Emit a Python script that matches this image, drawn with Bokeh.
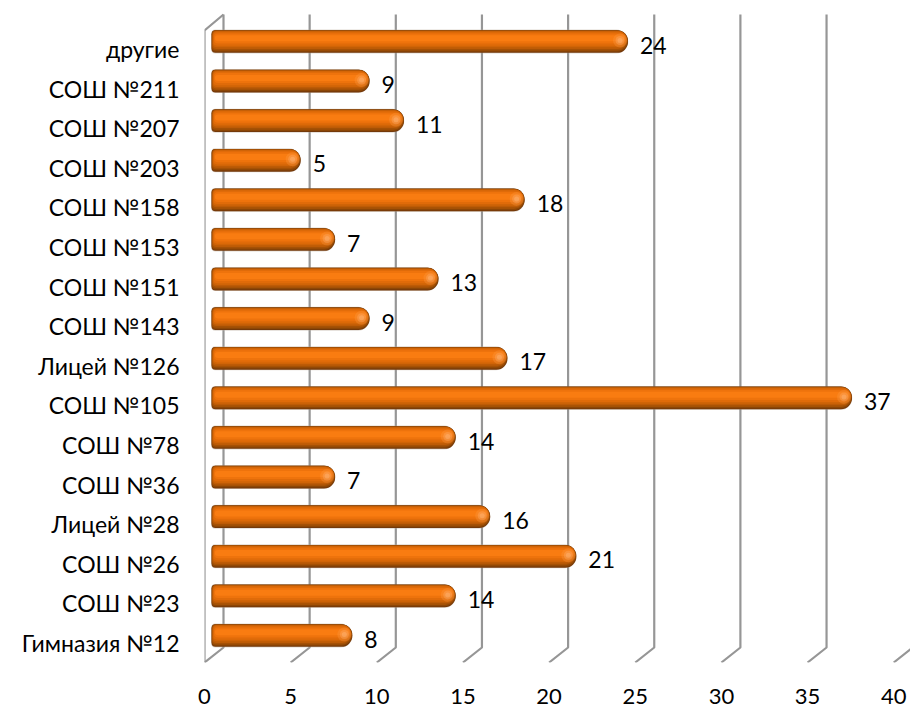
from bokeh.plotting import figure
from bokeh.models import ColumnDataSource, FixedTicker, LinearAxis, Range1d
from bokeh.core.properties import value as fv
from bokeh.embed import file_html
from bokeh.resources import INLINE

schools = ["Гимназия №12", "СОШ №23", "СОШ №26", "Лицей №28", "СОШ №36", "СОШ №78", "СОШ №105", "Лицей №126",
           "СОШ №143", "СОШ №151", "СОШ №153", "СОШ №158", "СОШ №203", "СОШ №207", "СОШ №211", "другие"]
counts = [8, 14, 21, 16, 7, 14, 37, 17, 9, 13, 7, 18, 5, 11, 9, 24]
x_ticks = [0, 5, 10, 15, 20, 25, 30, 35, 40]

FONT = "Lato"
FS = "23px"
PX_X = 17.23     # px per unit on x
PX_Y = 39.6      # px per category
W, H = 910, 709
FL, FB = 204, 47  # frame left and bottom border
FW, FH = W - FL, H - FB
GRID = "#969696"
CAP = 3 / PX_X    # rounded cap reaches a little past the value

p = figure(width=W, height=H, output_backend="svg", toolbar_location=None,
           x_range=Range1d(0, FW / PX_X),
           y_range=Range1d(-27 / PX_Y, FH / PX_Y - 27 / PX_Y),
           x_axis_location=None, y_axis_location=None,
           min_border_left=FL, min_border_right=0, min_border_top=0, min_border_bottom=FB,
           outline_line_color=None, background_fill_color="white", border_fill_color="white")
p.grid.visible = False

# shifted ranges: bars sit 7px in from the front plane, category labels below their bars
p.extra_x_ranges["bars"] = Range1d(-7 / PX_X, (FW - 7) / PX_X)
p.extra_y_ranges["labels"] = Range1d(-19.5 / PX_Y, FH / PX_Y - 19.5 / PX_Y)
p.extra_y_ranges["wall"] = Range1d(FH, 0)   # depth structure, frame pixels from top

# axes
xa = LinearAxis(ticker=FixedTicker(ticks=x_ticks), axis_line_color=None, major_tick_line_color=None,
                minor_tick_line_color=None, major_label_text_font=FONT, major_label_text_font_size="22px",
                major_label_text_color="black", major_label_standoff=20)
p.add_layout(xa, "below")
ya = LinearAxis(y_range_name="labels", ticker=FixedTicker(ticks=list(range(len(schools)))),
                major_label_overrides={i: s for i, s in enumerate(schools)},
                axis_line_color=None, major_tick_line_color=None, minor_tick_line_color=None,
                major_label_text_font=FONT, major_label_text_font_size=FS,
                major_label_text_color="black", major_label_standoff=19)
p.add_layout(ya, "left")

# 3D back wall and floor ticks
depth = 19 / PX_X
wall_top, wall_bottom = 14, 647      # back wall, px from frame top
front_top, front_bottom = 30, 662   # front plane
xs, ys = [], []
for t in x_ticks:
    xs.append([t, t + depth, t + depth])
    ys.append([front_bottom, wall_bottom, wall_top])
xs.append([0, 0, depth]); ys.append([front_bottom, front_top, wall_top])
p.multi_line(xs, ys, y_range_name="wall", line_color=GRID, line_width=2.2)

# glossy bars: nested rounded bars, outside to inside
layers = [  # height px, shift up px, colour, alpha
    (24.0, 0.0, "#b9a999", 0.45),
    (22.7, 0.0, "#74390a", 1),
    (21.5, 0.5, "#8c4606", 1),
    (20.0, 1.0, "#a55105", 1),
    (18.0, 1.6, "#bd5b06", 1),
    (16.0, 2.2, "#d06407", 1),
    (13.5, 2.6, "#e06b09", 1),
    (10.0, 3.0, "#ee730c", 1),
    (6.0, 3.2, "#f97c11", 1),
]
ypos = list(range(len(schools)))
for h, up, col, al in layers:
    inset = (22.7 - h) / 2
    src = ColumnDataSource(dict(y=[i + up / PX_Y for i in ypos],
                                l=[inset / PX_X * 0.4] * len(ypos),
                                r=[c + CAP - inset / PX_X * 0.4 for c in counts]))
    rr = int(round(h / 2))
    rl = min(4, rr)
    p.hbar(y="y", left="l", right="r", height=h / PX_Y, source=src, x_range_name="bars",
           fill_color=col, fill_alpha=al, line_color=None,
           border_radius=(rl, rr, rr, rl))

# highlight near the rounded end
for size, col, al in [(14, "#fb9a45", 0.3), (9, "#fdb070", 0.35), (5, "#fec08a", 0.35)]:
    src = ColumnDataSource(dict(x=[c + CAP - 8 / PX_X for c in counts], y=[i + 1 / PX_Y for i in ypos]))
    p.scatter("x", "y", source=src, x_range_name="bars", size=size, marker="circle",
              fill_color=col, fill_alpha=al, line_color=None)

# data labels
src = ColumnDataSource(dict(x=[c + CAP for c in counts], y=ypos, t=[str(c) for c in counts]))
p.text("x", "y", text="t", source=src, x_range_name="bars", x_offset=12, y_offset=3.5,
       text_font=fv(FONT), text_font_size=FS, text_color="black",
       text_align="left", text_baseline="middle")

open("out.html", "w").write(file_html(p, INLINE))
